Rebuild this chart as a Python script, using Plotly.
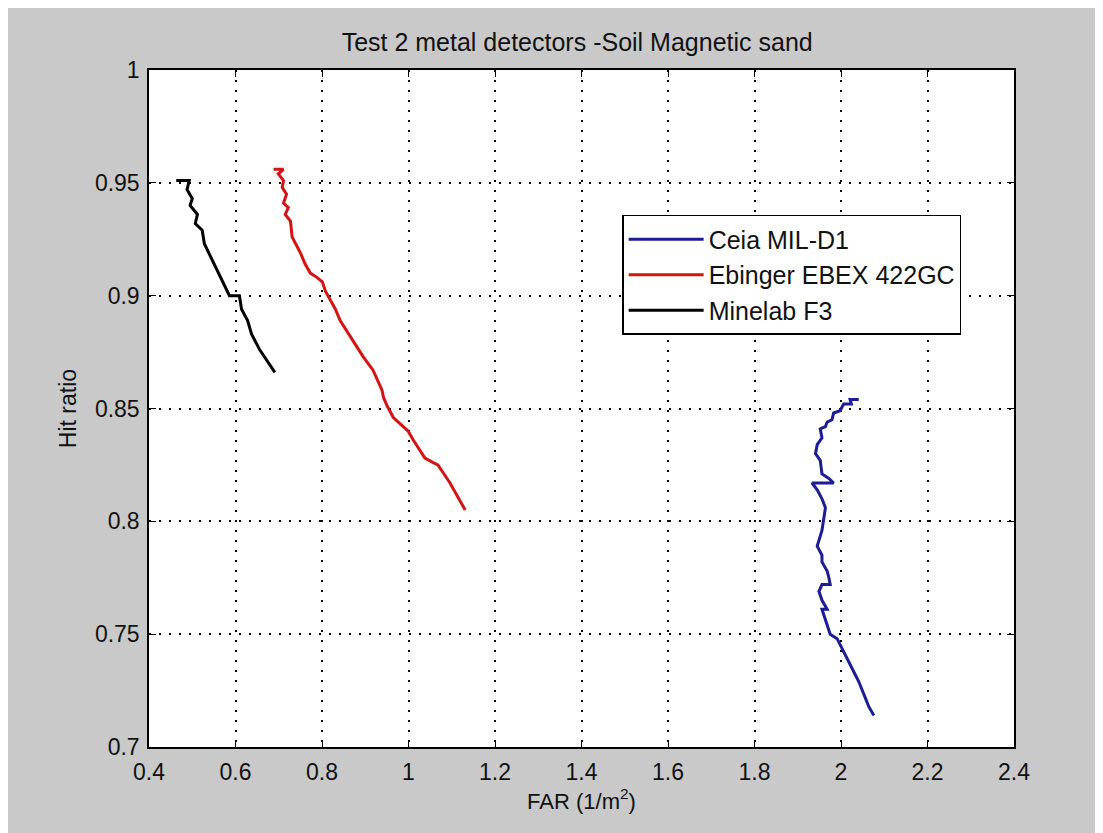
import plotly.graph_objects as go

# ---- data ----
ceia_far = [2.041, 2.021, 2.024, 2.006, 1.998, 1.983, 1.979, 1.968, 1.964, 1.952,
            1.956, 1.945, 1.941, 1.952, 1.956, 1.972, 1.983, 1.933, 1.945, 1.956,
            1.964, 1.960, 1.956, 1.945, 1.956, 1.956, 1.968, 1.972, 1.975, 1.956,
            1.949, 1.956, 1.968, 1.956, 1.964, 1.975, 1.991, 2.002, 2.018, 2.033,
            2.041, 2.052, 2.064, 2.076]
ceia_hit = [0.854, 0.854, 0.852, 0.852, 0.849, 0.848, 0.845, 0.844, 0.842, 0.841,
            0.837, 0.834, 0.830, 0.827, 0.821, 0.819, 0.817, 0.817, 0.814, 0.810,
            0.806, 0.800, 0.796, 0.789, 0.785, 0.782, 0.778, 0.775, 0.772, 0.772,
            0.769, 0.765, 0.761, 0.761, 0.756, 0.750, 0.748, 0.744, 0.738, 0.732,
            0.729, 0.724, 0.718, 0.714]

ebinger_far = [0.688, 0.711, 0.699, 0.711, 0.708, 0.718, 0.711, 0.722, 0.715, 0.727,
               0.731, 0.750, 0.761, 0.773, 0.789, 0.801, 0.808, 0.831, 0.842, 0.865,
               0.895, 0.918, 0.939, 0.942, 0.951, 0.965, 0.988, 0.999, 1.011, 1.027,
               1.038, 1.057, 1.068, 1.096, 1.131]
ebinger_hit = [0.956, 0.956, 0.954, 0.951, 0.948, 0.945, 0.941, 0.939, 0.936, 0.933,
               0.926, 0.919, 0.914, 0.910, 0.908, 0.906, 0.902, 0.894, 0.889, 0.882,
               0.873, 0.867, 0.858, 0.855, 0.851, 0.846, 0.842, 0.840, 0.836, 0.831,
               0.828, 0.826, 0.825, 0.817, 0.805]

minelab_far = [0.463, 0.493, 0.488, 0.500, 0.495, 0.512, 0.507, 0.523, 0.528, 0.551,
               0.574, 0.586, 0.609, 0.614, 0.628, 0.637, 0.656, 0.674, 0.691]
minelab_hit = [0.951, 0.951, 0.947, 0.943, 0.940, 0.936, 0.932, 0.929, 0.923, 0.914,
               0.905, 0.900, 0.900, 0.894, 0.889, 0.883, 0.876, 0.871, 0.866]

x_ticks = [0.4, 0.6, 0.8, 1.0, 1.2, 1.4, 1.6, 1.8, 2.0, 2.2, 2.4]
x_labels = ["0.4", "0.6", "0.8", "1", "1.2", "1.4", "1.6", "1.8", "2", "2.2", "2.4"]
y_ticks = [0.7, 0.75, 0.8, 0.85, 0.9, 0.95, 1.0]
y_labels = ["0.7", "0.75", "0.8", "0.85", "0.9", "0.95", "1"]

FONT = "Liberation Sans, Arial, sans-serif"
GRAY = "#c9c9c9"
TXT = "#111111"

fig = go.Figure()
fig.add_trace(go.Scatter(x=ceia_far, y=ceia_hit, mode="lines", name="Ceia MIL-D1",
                         line=dict(color="#1c1c96", width=3)))
fig.add_trace(go.Scatter(x=ebinger_far, y=ebinger_hit, mode="lines", name="Ebinger EBEX 422GC",
                         line=dict(color="#d41414", width=3)))
fig.add_trace(go.Scatter(x=minelab_far, y=minelab_hit, mode="lines", name="Minelab F3",
                         line=dict(color="#000000", width=3)))

axis_common = dict(
    showline=True, linecolor="black", linewidth=1.5, mirror="ticks",
    ticks="inside", ticklen=7, tickcolor="black", tickwidth=1,
    showgrid=True, gridcolor="black", gridwidth=1.5, griddash="2px,8px",
    zeroline=False, tickfont=dict(family=FONT, size=23, color=TXT),
)

fig.update_layout(
    width=1103, height=833,
    margin=dict(l=141, r=97, t=62, b=94),
    paper_bgcolor=GRAY, plot_bgcolor="white",
    title=dict(text="Test 2 metal detectors -Soil Magnetic sand",
               font=dict(family=FONT, size=25, color=TXT),
               xref="paper", x=0.495, xanchor="center", y=1 - 34 / 833, yanchor="middle"),
    xaxis=dict(range=[0.4, 2.4], tickvals=x_ticks, ticktext=x_labels,
               ticklabelstandoff=4,
               title=dict(text="FAR (1/m<sup>2</sup>)", font=dict(family=FONT, size=22, color=TXT),
                          standoff=8),
               **axis_common),
    yaxis=dict(range=[0.7, 1.0], tickvals=y_ticks, ticktext=y_labels,
               ticklabelstandoff=3,
               title=dict(text="Hit ratio", font=dict(family=FONT, size=23, color=TXT),
                          standoff=12),
               **axis_common),
    legend=dict(x=0.547, y=0.786, xanchor="left", yanchor="top",
                bgcolor="white", bordercolor="black", borderwidth=1.5,
                font=dict(family=FONT, size=25, color=TXT),
                itemwidth=75, tracegroupgap=0,
                entrywidth=352, entrywidthmode="pixels"),
    showlegend=True,
)

fig.write_html("out.html")
